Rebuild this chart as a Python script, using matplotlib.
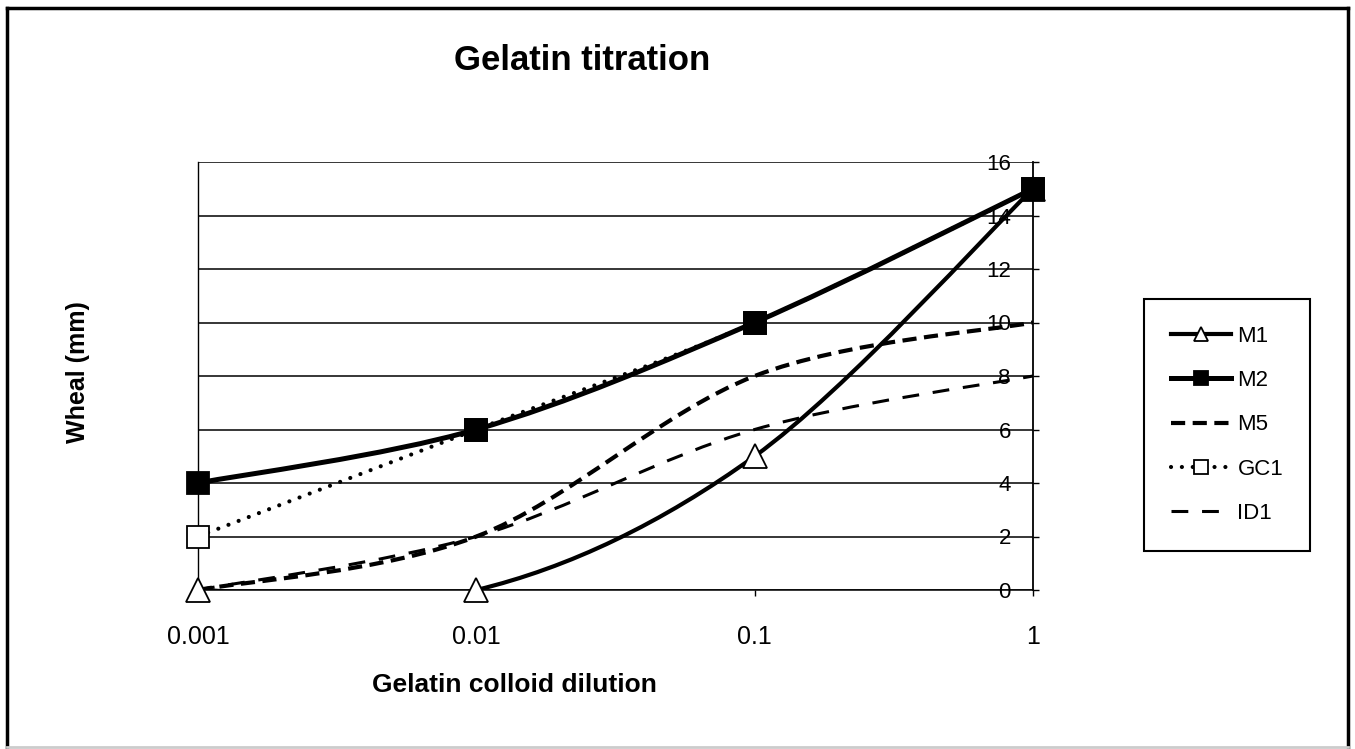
import numpy as np
import matplotlib.pyplot as plt
from matplotlib.path import Path
from matplotlib.patches import PathPatch
from matplotlib.lines import Line2D

plt.rcParams['font.family'] = ['Liberation Sans', 'DejaVu Sans']

# Разведения коллоида (категориальная ось)
dilutions = ['0.001', '0.01', '0.1', '1']

# Размер волдыря, мм
m1 = [0, 0, 5, 15]
m2 = [4, 6, 10, 15]
m5 = [0, 2, 8, 10]
gc1 = [2, 6, 10, 15]
id1 = [0, 2, 6, 8]

y_ticks = [0, 2, 4, 6, 8, 10, 12, 14, 16]


def smooth_path(xs, ys):
    # Сглаженная кривая как в Excel: кубические Безье через все точки
    pts = np.column_stack([xs, ys]).astype(float)
    n = len(pts)
    verts = [pts[0]]
    codes = [Path.MOVETO]
    for i in range(n - 1):
        p_prev = pts[max(i - 1, 0)]
        p0 = pts[i]
        p1 = pts[i + 1]
        p_next = pts[min(i + 2, n - 1)]
        c1 = p0 + (p1 - p_prev) / 6.0
        c2 = p1 - (p_next - p0) / 6.0
        verts += [c1, c2, p1]
        codes += [Path.CURVE4] * 3
    return Path(verts, codes)


fig = plt.figure(figsize=(13.55, 7.49), dpi=100)
ax = fig.add_axes([198 / 1355, 1 - 590 / 749, (1033 - 198) / 1355, (590 - 162) / 749])

x = np.arange(len(dilutions))

series = [
    # подпись, данные, толщина, стиль линии, маркер, заливка маркера, zorder
    ('M1', m1, 3.0, '-', '^', 'white', 2.0),
    ('M2', m2, 3.6, '-', 's', 'black', 2.4),
    ('M5', m5, 3.0, (0, (3.4, 1.8)), None, None, 2.1),
    ('GC1', gc1, 3.0, (0, (0.01, 2.6)), 's', 'white', 2.2),
    ('ID1', id1, 2.2, (0, (5.5, 4.5)), None, None, 2.1),
]
marker_z = {'M1': 3.0, 'GC1': 3.5, 'M2': 4.0}

handles = []
for name, vals, lw, ls, mk, mfc, z in series:
    capstyle = 'round' if name == 'GC1' else 'butt'
    patch = PathPatch(smooth_path(x, vals), facecolor='none', edgecolor='black',
                      linewidth=lw, linestyle=ls, capstyle=capstyle, zorder=z)
    ax.add_patch(patch)
    if mk is not None:
        size = 17 if mk == '^' else 15.5
        ax.plot(x, vals, linestyle='none', marker=mk, markersize=size,
                markerfacecolor=mfc, markeredgecolor='black', markeredgewidth=1.3,
                zorder=marker_z[name], clip_on=False)
    h = Line2D([], [], color='black', linewidth=lw, linestyle=ls,
               dash_capstyle=capstyle, marker=mk,
               markersize=10 if mk else 0,
               markerfacecolor=mfc, markeredgecolor='black', markeredgewidth=1.3)
    handles.append(h)

ax.set_xlim(0, 3)
ax.set_ylim(0, 16)
ax.set_xticks(x)
ax.set_xticklabels(dilutions, fontsize=18)
ax.tick_params(axis='x', direction='out', length=4, width=1, pad=21)

# Ось Y справа, подписи слева от неё
ax.yaxis.tick_right()
ax.set_yticks(y_ticks)
ax.set_yticklabels([str(v) for v in y_ticks], fontsize=16)
ax.tick_params(axis='y', direction='out', length=4, width=1, pad=-20)
for lbl in ax.get_yticklabels():
    lbl.set_horizontalalignment('right')

ax.grid(axis='y', color='black', linewidth=1.1)
ax.set_axisbelow(True)
ax.spines['top'].set_visible(False)
ax.spines['left'].set_linewidth(1.0)
ax.spines['bottom'].set_linewidth(1.1)
ax.spines['right'].set_linewidth(1.3)

fig.text(582 / 1355, 1 - 60 / 749, 'Gelatin titration', fontsize=25,
         fontweight='bold', ha='center', va='center')
fig.text(514 / 1355, 1 - 685 / 749, 'Gelatin colloid dilution', fontsize=19,
         fontweight='bold', ha='center', va='center')
fig.text(78 / 1355, 1 - 372 / 749, 'Wheal (mm)', fontsize=18, fontweight='bold',
         ha='center', va='center', rotation=90)

leg = fig.legend(handles, [s[0] for s in series], loc='center',
                 bbox_to_anchor=(1227 / 1355, 1 - 425 / 749), fontsize=16,
                 frameon=True, fancybox=False, edgecolor='black', framealpha=1,
                 handlelength=2.7, handletextpad=0.3, labelspacing=1.05,
                 borderpad=1.2)
leg.get_frame().set_linewidth(1.5)

# Рамка вокруг всей диаграммы
frame = dict(transform=fig.transFigure, color='black', linewidth=2.5)
fig.add_artist(Line2D([7 / 1355, 7 / 1355], [1 - 747 / 749, 1 - 8 / 749], **frame))
fig.add_artist(Line2D([7 / 1355, 1348 / 1355], [1 - 8 / 749, 1 - 8 / 749], **frame))
fig.add_artist(Line2D([1348 / 1355, 1348 / 1355], [1 - 747 / 749, 1 - 8 / 749], **frame))
fig.add_artist(Line2D([7 / 1355, 1348 / 1355], [1 - 747 / 749, 1 - 747 / 749],
                      transform=fig.transFigure, color='#cccccc', linewidth=2))

fig.savefig('out.png', dpi=100)
